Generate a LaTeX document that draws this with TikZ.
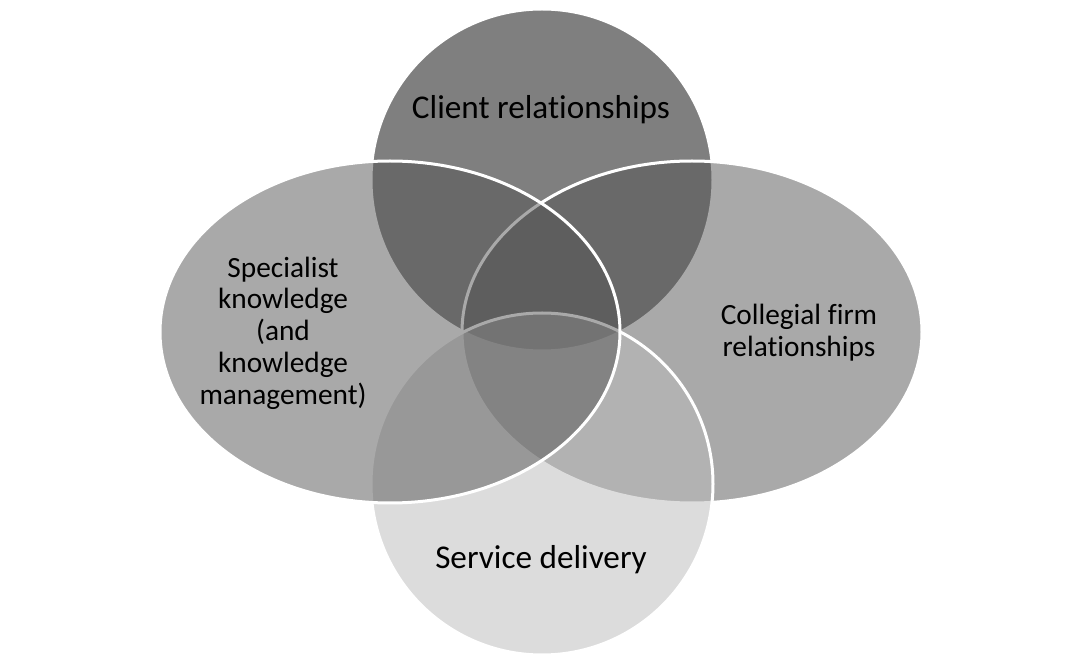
\documentclass[tikz,border=0pt]{standalone}
\usepackage{fontspec}
\setmainfont[Ligatures=NoCommon]{Carlito}
\definecolor{cT}{RGB}{0,0,0}
\definecolor{cR}{RGB}{85,85,85}
\definecolor{cB}{RGB}{187,187,187}
\definecolor{cL}{RGB}{85,85,85}
\tikzset{
  venn/.style={draw=white, line width=2.25pt, fill opacity=0.5, draw opacity=1},
  bigtxt/.style={font=\fontsize{24.9}{30}\selectfont, text=black, align=center},
  smalltxt/.style={font=\fontsize{22}{23.8}\selectfont, text=black, align=center}
}
\begin{document}
\begin{tikzpicture}[x=0.75pt,y=-0.75pt]
\useasboundingbox (0,0) rectangle (1083,666);
\fill[white] (0,0) rectangle (1083,666);
% draw order: top, right, bottom, left
\draw[venn, fill=cT] (542,180) circle [radius=171];
\draw[venn, fill=cR] (692,332) ellipse [x radius=230, y radius=171];
\draw[venn, fill=cB] (542,484) circle [radius=171];
\draw[venn, fill=cL] (390,332) ellipse [x radius=230, y radius=171];
\node[bigtxt] (client) at (541,110) {Client relationships};
\node[bigtxt] (service) at (541,560) {Service delivery};
\node[smalltxt] (special) at (283,333) {Specialist\\knowledge\\(and\\knowledge\\management)};
\node[smalltxt] (collegial) at (799,333) {Collegial firm\\relationships};
\end{tikzpicture}
\end{document}
